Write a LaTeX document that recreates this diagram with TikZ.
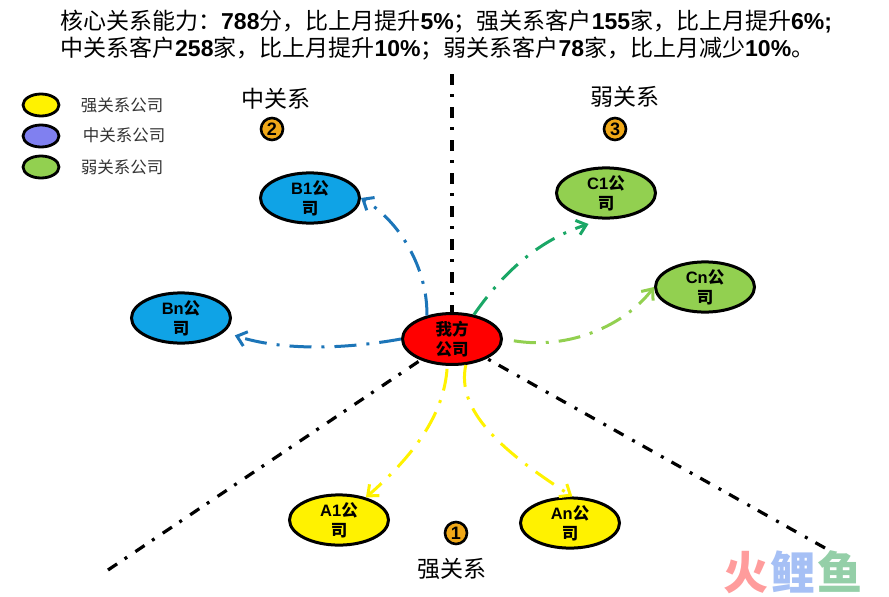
\documentclass[tikz,border=0pt]{standalone}
\usepackage{fontspec}
\setmainfont{Noto Sans CJK SC}
\newfontfamily\latfont{Liberation Sans}[BoldFont={Liberation Sans Bold}]
\newcommand{\lat}[1]{{\latfont\bfseries #1}}
\usetikzlibrary{shapes.geometric, arrows.meta}
\definecolor{midblue}{HTML}{0FA3E6}
\definecolor{lineblue}{HTML}{1C75B8}
\definecolor{linegreen}{HTML}{1AA766}
\definecolor{softgreen}{HTML}{92D050}
\definecolor{legendblue}{HTML}{8080F0}
\definecolor{badgeorange}{HTML}{F0A818}
\definecolor{markred}{HTML}{FF9C9C}
\definecolor{markblue}{HTML}{A6C0F5}
\definecolor{markgreen}{HTML}{94CFA8}
\tikzstyle{company} = [ellipse, minimum width=99pt, minimum height=46pt, inner sep=0pt, align=center, draw=black, line width=3pt, font=\fontsize{16.5}{20}\selectfont\bfseries]
\tikzstyle{legendkey} = [ellipse, minimum width=36pt, minimum height=22pt, inner sep=0pt, draw=black, line width=2.8pt]
\tikzstyle{legendtext} = [text=black!80, font=\fontsize{16.5}{19}\selectfont]
\tikzstyle{zone} = [font=\fontsize{23}{27}\selectfont]
\tikzstyle{badge} = [circle, minimum size=22pt, inner sep=0pt, fill=badgeorange, draw=black, line width=2.6pt, font=\latfont\fontsize{18}{18}\selectfont\bfseries]
\tikzstyle{axis} = [line width=3.2pt, dash pattern=on 11pt off 9pt on 3pt off 10pt]
\tikzstyle{link} = [-{Straight Barb[length=9pt,width=15pt]}, line width=3pt, dash pattern=on 22pt off 10pt on 3pt off 10pt]

\begin{document}
\begin{tikzpicture}[x=1pt, y=-1pt, node distance=81pt]
\useasboundingbox (0,0) rectangle (889,597);
%标题
\node (title) [anchor=north west, align=left, inner sep=0pt, font=\fontsize{23}{27}\selectfont] at (60,10) {核心关系能力：\lat{788}分，比上月提升\lat{5\%}；强关系客户\lat{155}家，比上月提升\lat{6\%;}\\中关系客户\lat{258}家，比上月提升\lat{10\%}；弱关系客户\lat{78}家，比上月减少\lat{10\%}。};

%图例
\node (keystrong) [legendkey, fill=yellow] at (41,105) {};
\node (keymid) [legendkey, fill=legendblue] at (41,136) {};
\node (keyweak) [legendkey, fill=softgreen] at (41,167) {};
\node (textstrong) [legendtext, right of=keystrong] {强关系公司};
\node (textmid) [legendtext, right of=keymid, xshift=2pt, yshift=1pt] {中关系公司};
\node (textweak) [legendtext, right of=keyweak] {弱关系公司};

%分区
\node (zonemid) [zone] at (276,99) {中关系};
\node (zoneweak) [zone] at (625,97) {弱关系};
\node (zonestrong) [zone] at (452,569) {强关系};
\node (badgemid) [badge] at (272,129) {2};
\node (badgeweak) [badge] at (615,129) {3};
\node (badgestrong) [badge] at (456,533) {1};

%公司
\node (me) [company, fill=red] at (452,339) {我方\\公司};
\node (bone) [company, fill=midblue] at (310,198) {\lat{B1}公\\司};
\node (bn) [company, fill=midblue] at (181,318) {\lat{Bn}公\\司};
\node (cone) [company, fill=softgreen] at (606,193) {\lat{C1}公\\司};
\node (cn) [company, fill=softgreen] at (705,287) {\lat{Cn}公\\司};
\node (aone) [company, fill=yellow] at (339,520) {\lat{A1}公\\司};
\node (an) [company, fill=yellow] at (570,523) {\lat{An}公\\司};

%水印
\node (mark) [inner sep=0pt, font=\fontsize{45}{45}\selectfont\bfseries] at (793,572) {\textcolor{markred}{火}\hspace{2pt}\textcolor{markblue}{鲤}\hspace{2pt}\textcolor{markgreen}{鱼}};

%分界线
\coordinate (axistop) at (452,74);
\coordinate (axisleft) at (108,570);
\coordinate (axisright) at (825,548);
\draw [axis] (axistop) -- (me);
\draw [axis] (axisleft) -- (me);
\draw [axis] (axisright) -- (me);

%连接
\draw [link, lineblue] (me.137) .. controls (428,275) and (405,225) .. (bone.east);
\draw [link, lineblue, shorten >=11pt] (me.west) .. controls (340,350) and (280,350) .. (bn.-18);
\draw [link, linegreen] (me.48) .. controls (505,270) and (540,240) .. ([yshift=-6pt]cone.-125);
\draw [link, softgreen, shorten <=11pt] (me.east) .. controls (570,350) and (625,325) .. (cn.west);
\draw [link, yellow, shorten <=3pt] (me.-100) .. controls (444,410) and (420,450) .. (aone.40);
\draw [link, yellow] (me.-62) .. controls (456,410) and (500,450) .. (an.85);
\end{tikzpicture}
\end{document}
